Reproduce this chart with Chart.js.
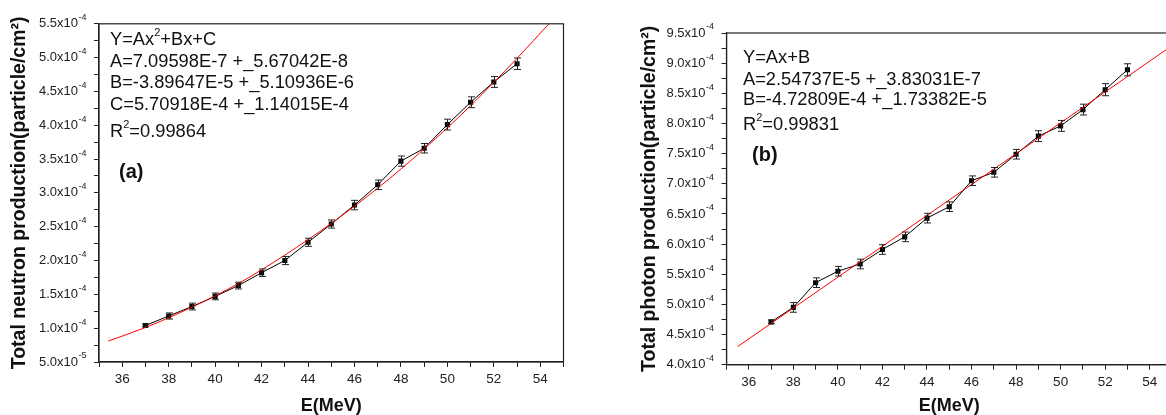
<!DOCTYPE html>
<html>
<head>
<meta charset="utf-8">
<script src="https://cdn.jsdelivr.net/npm/chart.js@4.4.0/dist/chart.umd.min.js"></script>
<style>
  html, body { margin: 0; padding: 0; background: #fff; }
  body { width: 1166px; height: 415px; overflow: hidden; position: relative; }
  .box { position: absolute; top: 0; height: 415px; }
  #boxA { left: 0; width: 580px; }
  #boxB { left: 620px; width: 556px; }
</style>
</head>
<body>
<div class="box" id="boxA"><canvas id="neutronChart"></canvas></div>
<div class="box" id="boxB"><canvas id="photonChart"></canvas></div>
<script>
// beam energy (MeV)
const energy = [37, 38, 39, 40, 41, 42, 43, 44, 45, 46, 47, 48, 49, 50, 51, 52, 53];

// (a) total neutron production
const neutronFlux = [1.04e-4, 1.18e-4, 1.32e-4, 1.47e-4, 1.63e-4, 1.82e-4, 2.00e-4, 2.27e-4, 2.54e-4,
                     2.82e-4, 3.12e-4, 3.47e-4, 3.66e-4, 4.01e-4, 4.34e-4, 4.64e-4, 4.91e-4];
const neutronErr = [0.02e-4, 0.045e-4, 0.05e-4, 0.05e-4, 0.05e-4, 0.055e-4, 0.06e-4, 0.06e-4, 0.06e-4,
                    0.07e-4, 0.07e-4, 0.075e-4, 0.07e-4, 0.08e-4, 0.08e-4, 0.08e-4, 0.085e-4];
// red fit curve
const neutronFitE = [35.4, 37, 39, 41, 43, 45, 47, 49, 51, 53, 54.4];
const neutronFitFlux = [0.81e-4, 1.01e-4, 1.31e-4, 1.66e-4, 2.08e-4, 2.55e-4, 3.07e-4, 3.65e-4, 4.29e-4, 4.99e-4, 5.51e-4];

// (b) total photon production
const photonFlux = [4.71e-4, 4.95e-4, 5.36e-4, 5.55e-4, 5.67e-4, 5.91e-4, 6.12e-4, 6.43e-4, 6.62e-4,
                    7.05e-4, 7.19e-4, 7.49e-4, 7.79e-4, 7.96e-4, 8.23e-4, 8.56e-4, 8.89e-4];
const photonErr = [0.03e-4, 0.08e-4, 0.08e-4, 0.08e-4, 0.08e-4, 0.08e-4, 0.08e-4, 0.08e-4, 0.08e-4,
                   0.08e-4, 0.08e-4, 0.08e-4, 0.09e-4, 0.09e-4, 0.09e-4, 0.1e-4, 0.1e-4];
const photonFitE = [35.5, 55];
const photonFitFlux = [4.30e-4, 9.29e-4];

// tick labels (mantissa ^ exponent)
const energyTickLabels = ['36', '38', '40', '42', '44', '46', '48', '50', '52', '54'];
const neutronTickLabels = ['5.0x10^-5', '1.0x10^-4', '1.5x10^-4', '2.0x10^-4', '2.5x10^-4', '3.0x10^-4',
                           '3.5x10^-4', '4.0x10^-4', '4.5x10^-4', '5.0x10^-4', '5.5x10^-4'];
const photonTickLabels = ['4.0x10^-4', '4.5x10^-4', '5.0x10^-4', '5.5x10^-4', '6.0x10^-4', '6.5x10^-4',
                          '7.0x10^-4', '7.5x10^-4', '8.0x10^-4', '8.5x10^-4', '9.0x10^-4', '9.5x10^-4'];

const FONT = '"Liberation Sans", Arial, sans-serif';
Chart.defaults.font.family = FONT;
Chart.defaults.color = '#222';

const pairs = (xs, ys) => xs.map((x, i) => ({ x: x, y: ys[i] }));

// box round the plot area
const framePlugin = {
  id: 'frame',
  afterDraw(chart) {
    const { ctx, chartArea: a } = chart;
    ctx.save();
    ctx.strokeStyle = '#222';
    ctx.lineWidth = 1.2;
    ctx.strokeRect(a.left, a.top, a.right - a.left, a.bottom - a.top);
    ctx.restore();
  }
};

// vertical error bars with caps
const errorBarPlugin = {
  id: 'errorBars',
  afterDatasetsDraw(chart, args, opts) {
    if (!opts.errors) return;
    const ds = chart.data.datasets[opts.datasetIndex];
    const xs = chart.scales.x, ys = chart.scales.y;
    const ctx = chart.ctx;
    ctx.save();
    ctx.strokeStyle = '#222';
    ctx.lineWidth = 1;
    ds.data.forEach((p, i) => {
      const e = opts.errors[i];
      const px = Math.round(xs.getPixelForValue(p.x)) + 0.5;
      const top = ys.getPixelForValue(p.y + e);
      const bot = ys.getPixelForValue(p.y - e);
      ctx.beginPath();
      ctx.moveTo(px, top); ctx.lineTo(px, bot);
      ctx.moveTo(px - 3.5, top); ctx.lineTo(px + 3.5, top);
      ctx.moveTo(px - 3.5, bot); ctx.lineTo(px + 3.5, bot);
      ctx.stroke();
    });
    ctx.restore();
  }
};

// exponent of the y tick labels, drawn raised after "x10"
const tickExpPlugin = {
  id: 'tickExp',
  afterDraw(chart, args, opts) {
    if (!opts.labels) return;
    const s = chart.scales.y, ctx = chart.ctx;
    const x = s.right - s.options.grid.tickLength - s.options.ticks.padding;
    ctx.save();
    ctx.fillStyle = '#222';
    ctx.font = '9px ' + FONT;
    ctx.textAlign = 'left';
    ctx.textBaseline = 'middle';
    s.ticks.forEach((t, i) => {
      if (!t.label) return;
      const full = opts.labels.find(l => l.split('^')[0] === t.label && Math.abs(parseFloat(l) * Math.pow(10, +l.split('^')[1]) - t.value) < 1e-10);
      if (!full) return;
      ctx.fillText(full.split('^')[1], x + 0.5, s.getPixelForTick(i) - 6);
    });
    ctx.restore();
  }
};

// fit result text with superscripts
function drawRich(ctx, segs, x, y, size) {
  segs.forEach(s => {
    const sup = s[1];
    ctx.font = (sup ? Math.round(size * 0.6) : size) + 'px ' + FONT;
    ctx.fillText(s[0], x, sup ? y - size * 0.38 : y);
    x += ctx.measureText(s[0]).width;
  });
}
const fitTextPlugin = {
  id: 'fitText',
  afterDraw(chart, args, opts) {
    if (!opts.lines) return;
    const ctx = chart.ctx;
    ctx.save();
    ctx.fillStyle = '#111';
    ctx.textBaseline = 'middle';
    ctx.textAlign = 'left';
    opts.lines.forEach((segs, i) => drawRich(ctx, segs, opts.x, opts.ys[i], 18.3));
    ctx.font = 'bold 20px ' + FONT;
    ctx.fillText(opts.tag, opts.tagX, opts.tagY);
    ctx.restore();
  }
};

function yTick(labels, min) {
  return function (v) {
    const k = Math.round((v - min) / 0.5e-4);
    return Math.abs(v - (min + k * 0.5e-4)) < 1e-10 && labels[k] ? labels[k].split('^')[0] : '';
  };
}

function makeChart(id, cfg) {
  return new Chart(document.getElementById(id), {
    type: 'line',
    data: {
      datasets: [
        {
          data: pairs(cfg.fitX, cfg.fitY),
          borderColor: '#ff0000',
          borderWidth: 1,
          pointRadius: 0,
          cubicInterpolationMode: 'monotone',
          order: 0
        },
        {
          data: pairs(energy, cfg.values),
          borderColor: '#000',
          borderWidth: 1,
          backgroundColor: '#000',
          pointStyle: 'rect',
          pointRadius: 3.6,
          pointBorderWidth: 0,
          tension: 0,
          order: 1
        }
      ]
    },
    options: {
      animation: false,
      responsive: true,
      maintainAspectRatio: false,
      layout: { padding: cfg.padding },
      plugins: {
        legend: { display: false },
        tooltip: { enabled: false },
        errorBars: { errors: cfg.errors, datasetIndex: 1 },
        tickExp: { labels: cfg.tickLabels },
        fitText: cfg.text
      },
      scales: {
        x: {
          type: 'linear',
          min: 35,
          max: 55,
          afterFit(s) { s.height = cfg.xHeight; },
          border: { color: '#222', width: 1.2 },
          grid: { drawOnChartArea: false, tickLength: 5, color: '#222' },
          ticks: {
            stepSize: 1,
            autoSkip: false,
            maxRotation: 0,
            padding: 4,
            color: '#222',
            font: { size: 13.5 },
            callback: v => energyTickLabels.includes(String(v)) ? String(v) : ''
          },
          title: {
            display: true,
            text: 'E(MeV)',
            color: '#111',
            font: { size: 18, weight: 'bold', lineHeight: 1 },
            padding: { top: 0, bottom: 0 }
          }
        },
        y: {
          type: 'linear',
          min: cfg.yMin,
          max: cfg.yMax,
          afterFit(s) { s.width = cfg.yWidth; },
          border: { color: '#222', width: 1.2 },
          grid: { drawOnChartArea: false, tickLength: 5, color: '#222' },
          ticks: {
            stepSize: 0.25e-4,
            autoSkip: false,
            padding: 16,
            color: '#222',
            font: { size: 13 },
            callback: yTick(cfg.tickLabels, cfg.yMin)
          },
          title: {
            display: true,
            text: cfg.yTitle,
            color: '#111',
            font: { size: 19.5, weight: 'bold', lineHeight: 1 },
            padding: { top: cfg.titlePad, bottom: 0 }
          }
        }
      }
    },
    plugins: [framePlugin, errorBarPlugin, tickExpPlugin, fitTextPlugin]
  });
}

makeChart('neutronChart', {
  values: neutronFlux, errors: neutronErr,
  fitX: neutronFitE, fitY: neutronFitFlux,
  yMin: 0.5e-4, yMax: 5.5e-4, tickLabels: neutronTickLabels,
  yTitle: 'Total neutron production(particle/cm²)',
  padding: { left: 0, top: 20, right: 16.5, bottom: 0 },
  yWidth: 99, xHeight: 53, titlePad: 10,
  text: {
    x: 110, ys: [40, 62, 83, 105, 132],
    lines: [
      [['Y=Ax'], ['2', true], ['+Bx+C']],
      [['A=7.09598E-7 +_5.67042E-8']],
      [['B=-3.89647E-5 +_5.10936E-6']],
      [['C=5.70918E-4 +_1.14015E-4']],
      [['R'], ['2', true], ['=0.99864']]
    ],
    tag: '(a)', tagX: 119, tagY: 172
  }
});

makeChart('photonChart', {
  values: photonFlux, errors: photonErr,
  fitX: photonFitE, fitY: photonFitFlux,
  yMin: 4.0e-4, yMax: 9.5e-4, tickLabels: photonTickLabels,
  yTitle: 'Total photon production(particle/cm²)',
  padding: { left: 0, top: 33, right: 0, bottom: 0 },
  yWidth: 106.5, xHeight: 50.3, titlePad: 20,
  text: {
    x: 123, ys: [58, 80, 100, 125],
    lines: [
      [['Y=Ax+B']],
      [['A=2.54737E-5 +_3.83031E-7']],
      [['B=-4.72809E-4 +_1.73382E-5']],
      [['R'], ['2', true], ['=0.99831']]
    ],
    tag: '(b)', tagX: 132, tagY: 155
  }
});
</script>
</body>
</html>
